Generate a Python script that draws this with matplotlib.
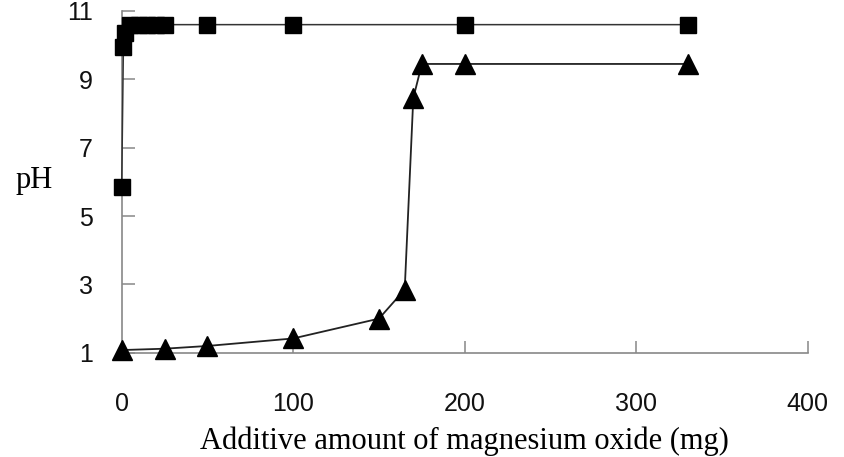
import matplotlib.pyplot as plt

# squares: pH with MgO added (fast rise)
sq_mg = [0, 1, 2, 5, 10, 15, 20, 25, 50, 100, 200, 330]
sq_ph = [5.85, 9.95, 10.35, 10.6, 10.6, 10.6, 10.6, 10.6, 10.6, 10.6, 10.6, 10.6]

# triangles: pH with MgO added (slow rise, jump near 170 mg)
tri_mg = [0, 25, 50, 100, 150, 165, 170, 175, 200, 330]
tri_ph = [1.08, 1.12, 1.2, 1.42, 2.0, 2.85, 8.45, 9.45, 9.45, 9.45]

x_ticks = [0, 100, 200, 300, 400]
y_ticks = [1, 3, 5, 7, 9, 11]

fig = plt.figure(figsize=(8.45, 4.57), dpi=100)
ax = fig.add_axes([0.144, 0.228, 0.812, 0.748])

ax.plot(tri_mg, tri_ph, color='#222222', lw=1.3, marker='^', ms=15,
        mfc='black', mec='black', clip_on=False, zorder=3)
ax.plot(sq_mg, sq_ph, color='#333333', lw=1.1, marker='s', ms=11,
        mfc='black', mec='black', clip_on=False, zorder=4)

ax.set_xlim(0, 400)
ax.set_ylim(1, 11)
ax.set_xticks(x_ticks)
ax.set_yticks(y_ticks)

for s in ['top', 'right']:
    ax.spines[s].set_visible(False)
for s in ['left', 'bottom']:
    ax.spines[s].set_color('#888888')
    ax.spines[s].set_linewidth(1.2)

ax.tick_params(axis='both', direction='in', length=9, width=1.1, color='#888888',
               labelsize=18)
ax.tick_params(axis='x', pad=28)
ax.tick_params(axis='y', pad=21)
for lab in ax.get_xticklabels() + ax.get_yticklabels():
    lab.set_family('Liberation Sans')
    lab.set_color('#111111')

ax.set_xlabel('Additive amount of magnesium oxide (mg)', family='Liberation Serif',
              fontsize=22, labelpad=8)
fig.text(0.040, 0.605, 'pH', family='Liberation Serif', fontsize=22,
         ha='center', va='center')

fig.savefig('out.png', dpi=100)
